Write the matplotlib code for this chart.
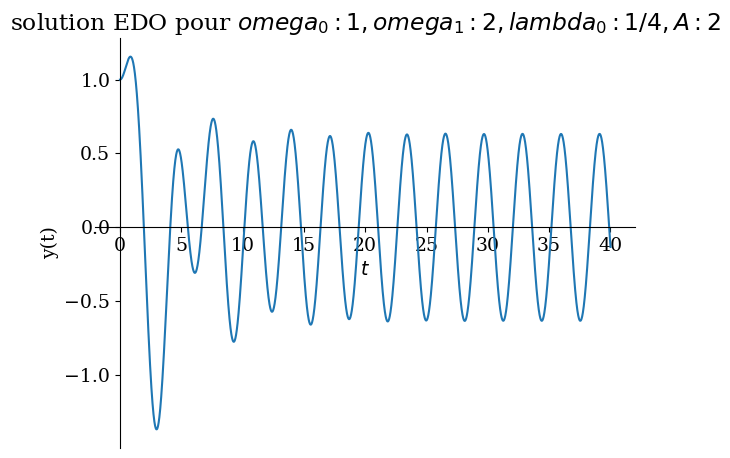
import numpy as np
import matplotlib
matplotlib.use("Agg")
import matplotlib.pyplot as plt

# Parameters
omega0 = 1.0
omega1 = 2.0
lambda0 = 0.25
A = 2.0
y_init = 1.0
v_init = 0.0
t_start, t_end = 0.0, 40.0
x_ticks = [0, 5, 10, 15, 20, 25, 30, 35, 40]
y_ticks = [-1.0, -0.5, 0.0, 0.5, 1.0]

# Solve y'' + 2*lambda0*y' + omega0^2*y = A*cos(omega1*t) with RK4
def rhs(t, s):
    y, v = s
    return np.array([v, A * np.cos(omega1 * t) - 2 * lambda0 * v - omega0 ** 2 * y])

t = np.linspace(t_start, t_end, 4001)
h = t[1] - t[0]
sol = np.zeros((len(t), 2))
sol[0] = [y_init, v_init]
for i in range(len(t) - 1):
    s = sol[i]; ti = t[i]
    k1 = rhs(ti, s)
    k2 = rhs(ti + h / 2, s + h / 2 * k1)
    k3 = rhs(ti + h / 2, s + h / 2 * k2)
    k4 = rhs(ti + h, s + h * k3)
    sol[i + 1] = s + h / 6 * (k1 + 2 * k2 + 2 * k3 + k4)

plt.rcParams['font.family'] = 'serif'
plt.rcParams['font.size'] = 13.6

fig = plt.figure(figsize=(7.3, 4.58), dpi=100)
ax = fig.add_axes([95.5 / 730, 10 / 458, (635 - 95.5) / 730, (448 - 38) / 458])
ax.plot(t, sol[:, 0], color='#1f77b4', lw=1.5)
ax.spines['left'].set_position(('data', 0))
ax.spines['bottom'].set_position(('data', 0))
ax.spines['right'].set_visible(False)
ax.spines['top'].set_visible(False)
ax.set_xticks(x_ticks)
ax.set_yticks(y_ticks)
ax.set_xlabel('$t$')
ax.set_ylabel('y(t)')
ax.set_title('solution EDO pour $omega_0: 1, omega_1: 2, lambda_0: 1/4, A: 2$', fontsize=16.8)
fig.savefig('out.png', dpi=100)
